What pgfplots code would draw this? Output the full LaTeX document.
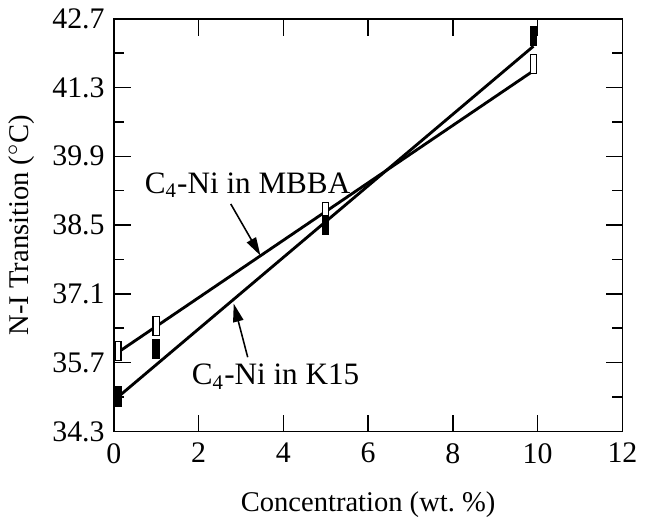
\documentclass[border=0pt]{standalone}
\usepackage{fontspec}
\setmainfont{Liberation Serif}
\usepackage{pgfplots}
\pgfplotsset{compat=1.18}
\usetikzlibrary{arrows.meta}

% narrow upright rectangle used as data marker
\pgfdeclareplotmark{vbar}{%
  \pgfpathrectangle{\pgfpoint{-1.2pt}{-3.7pt}}{\pgfpoint{2.4pt}{7.4pt}}%
  \pgfusepathqfillstroke}

\begin{document}
\begin{tikzpicture}[font=\fontsize{12}{14}\selectfont]
\begin{axis}[
  scale only axis, width=196pt, height=159pt,
  xmin=0, xmax=12, ymin=34.3, ymax=42.7,
  xtick={0,2,...,12},
  ytick={34.3,35.7,37.1,38.5,39.9,41.3,42.7},
  minor ytick={35.0,36.4,37.8,39.2,40.6,42.0},
  scaled ticks=false,
  yticklabel style={/pgf/number format/.cd, fixed, fixed zerofill, precision=1},
  ticklabel style={font=\fontsize{11.5}{14}\selectfont},
  xticklabel style={yshift=-1pt},
  /pgf/number format/assume math mode=true,
  tick align=inside,
  major tick length=6.5pt, minor tick length=4pt,
  every tick/.style={black, line width=0.6pt},
  axis line style={line width=0.6pt},
  label style={font=\fontsize{11}{13}\selectfont},
  xlabel={Concentration (wt.~\%)},
  xlabel style={yshift=-4pt},
  ylabel={N-I Transition ($^\circ$C)},
  clip=false,
]
% fitted lines
\addplot[black, line width=1.1pt] coordinates {(0.1,35.91) (9.9,41.64)};
\addplot[black, line width=1.1pt] coordinates {(0.1,35.00) (9.9,42.14)};
% C4-Ni in MBBA (open)
\addplot[only marks, mark=vbar, mark options={draw=black, fill=white, line width=0.5pt}]
  coordinates {(0.1,35.94) (1.0,36.45) (5.0,38.77) (9.9,41.78)};
% C4-Ni in K15 (filled)
\addplot[only marks, mark=vbar, mark options={draw=black, fill=black, line width=0.5pt}]
  coordinates {(0.1,35.01) (1.0,35.98) (5.0,38.50) (9.9,42.35)};

\node[anchor=base west, inner sep=0pt] at (axis cs:0.72,39.15) {C\textsubscript{4}-Ni in MBBA};
\draw[line width=0.6pt, -{Triangle[length=7pt,width=4pt]}] (axis cs:2.76,38.93) -- (axis cs:3.46,37.88);
\node[anchor=base west, inner sep=0pt] at (axis cs:1.83,35.25) {C\textsubscript{4}-Ni in K15};
\draw[line width=0.6pt, -{Triangle[length=7pt,width=4pt]}] (axis cs:3.16,35.81) -- (axis cs:2.83,36.90);
\end{axis}
\end{tikzpicture}
\end{document}
